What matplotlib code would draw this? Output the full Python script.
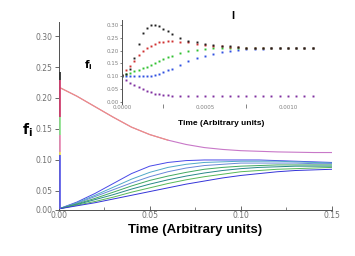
import matplotlib
matplotlib.use("Agg")
import matplotlib.pyplot as plt
from matplotlib.ticker import MultipleLocator

# ---------------- data ----------------
# main panel: time grid for all curves
t_main = [0.0, 0.01, 0.02, 0.03, 0.04, 0.05, 0.06, 0.07, 0.08, 0.09,
          0.10, 0.11, 0.12, 0.13, 0.14, 0.15]

rise_1 = [0.021, 0.032, 0.046, 0.062, 0.078, 0.090, 0.096, 0.099, 0.100, 0.100, 0.100, 0.100, 0.099, 0.098, 0.097, 0.096]
rise_2 = [0.021, 0.031, 0.043, 0.056, 0.069, 0.080, 0.088, 0.093, 0.096, 0.097, 0.098, 0.098, 0.098, 0.097, 0.096, 0.095]
rise_3 = [0.021, 0.030, 0.041, 0.052, 0.063, 0.073, 0.081, 0.087, 0.091, 0.093, 0.095, 0.095, 0.095, 0.095, 0.094, 0.094]
rise_4 = [0.021, 0.029, 0.038, 0.048, 0.058, 0.067, 0.074, 0.080, 0.085, 0.088, 0.090, 0.091, 0.092, 0.092, 0.092, 0.092]
rise_5 = [0.021, 0.028, 0.036, 0.044, 0.053, 0.061, 0.068, 0.074, 0.079, 0.083, 0.086, 0.088, 0.089, 0.090, 0.090, 0.090]
rise_6 = [0.021, 0.027, 0.033, 0.040, 0.048, 0.055, 0.062, 0.068, 0.073, 0.077, 0.081, 0.083, 0.085, 0.086, 0.087, 0.088]
rise_7 = [0.021, 0.026, 0.031, 0.037, 0.043, 0.049, 0.055, 0.061, 0.066, 0.071, 0.075, 0.078, 0.081, 0.083, 0.084, 0.085]
rise_series = [rise_1, rise_2, rise_3, rise_4, rise_5, rise_6, rise_7]

t_fall = [0.0005, 0.01, 0.02, 0.03, 0.04, 0.05, 0.06, 0.07, 0.08, 0.09,
          0.10, 0.11, 0.12, 0.13, 0.14, 0.15]
fall = [0.217, 0.203, 0.186, 0.169, 0.153, 0.141, 0.132, 0.125, 0.120, 0.117,
        0.115, 0.114, 0.113, 0.1125, 0.112, 0.112]

# initial jumps drawn at t ~ 0 (low, high)
jump_low = [0.021, 0.108, 0.113, 0.140, 0.170, 0.229]
jump_high = [0.108, 0.113, 0.140, 0.170, 0.229, 0.242]

# inset: time in arbitrary units
t_in = [0.0, 0.000025, 0.00005, 0.000075, 0.0001, 0.000125, 0.00015, 0.000175,
        0.0002, 0.000225, 0.00025, 0.000275, 0.0003, 0.00035, 0.0004, 0.00045,
        0.0005, 0.00055, 0.0006, 0.00065, 0.0007, 0.00075, 0.0008, 0.00085,
        0.0009, 0.00095, 0.001, 0.00105, 0.0011, 0.00115]
in_black = [0.105, 0.110, 0.130, 0.170, 0.225, 0.270, 0.290, 0.300, 0.300, 0.295,
            0.285, 0.275, 0.265, 0.250, 0.238, 0.232, 0.228, 0.224, 0.220, 0.217,
            0.214, 0.212, 0.211, 0.210, 0.210, 0.210, 0.210, 0.210, 0.210, 0.210]
in_red = [0.105, 0.125, 0.140, 0.160, 0.185, 0.200, 0.210, 0.218, 0.225, 0.232,
          0.235, 0.236, 0.236, 0.235, 0.233, 0.228, 0.223, 0.220, 0.218, 0.215,
          0.213, 0.211, 0.210, 0.210, 0.210, 0.210, 0.210, 0.210, 0.210, 0.210]
in_green = [0.100, 0.108, 0.114, 0.120, 0.125, 0.131, 0.137, 0.144, 0.150, 0.160,
            0.168, 0.175, 0.181, 0.192, 0.198, 0.204, 0.207, 0.209, 0.210, 0.210,
            0.210, 0.210, 0.210, 0.210, 0.210, 0.210, 0.210, 0.210, 0.210, 0.210]
in_blue = [0.100, 0.100, 0.100, 0.100, 0.100, 0.100, 0.100, 0.102, 0.106, 0.110,
           0.116, 0.123, 0.130, 0.145, 0.160, 0.172, 0.180, 0.188, 0.194, 0.198,
           0.202, 0.205, 0.207, 0.208, 0.210, 0.210, 0.210, 0.210, 0.210, 0.210]
in_purple = [0.100, 0.085, 0.075, 0.066, 0.058, 0.050, 0.043, 0.037, 0.032, 0.029,
             0.026, 0.025, 0.024, 0.022, 0.022, 0.022, 0.022, 0.022, 0.022, 0.022,
             0.022, 0.022, 0.022, 0.022, 0.022, 0.022, 0.022, 0.022, 0.022, 0.022]
inset_series = [in_purple, in_blue, in_green, in_red, in_black]

main_yticks = [0.05, 0.10, 0.15, 0.20, 0.25, 0.30]
main_xticks = [0.00, 0.05, 0.10, 0.15]
inset_yticks = [0.00, 0.05, 0.10, 0.15, 0.20, 0.25, 0.30]
inset_xticks = [0.0, 0.0005, 0.001]

# ---------------- styling ----------------
rise_colors = ['#4848e8', '#50a8c8', '#6888d8', '#40a860', '#288888', '#58b858', '#3434d8']
jump_colors = ['#6060e8', '#f0e060', '#e890b8', '#90e090', '#d04070', '#303030']
inset_colors = ['#8030a0', '#3050e0', '#30c030', '#d03030', '#202020']
gray = '#505050'

fig = plt.figure(figsize=(3.55, 2.56), dpi=100)
ax = fig.add_axes([0.165, 0.18, 0.77, 0.734])

for ys, c in zip(rise_series, rise_colors):
    ax.plot(t_main, ys, color=c, lw=0.7)
ax.plot(t_fall, fall, color='#c878c8', lw=0.8)
ax.plot(t_fall[:7], fall[:7], color='#f09080', lw=0.8)
ax.vlines([0.0006] * len(jump_low), jump_low, jump_high, colors=jump_colors,
          lw=1.3, zorder=4, clip_on=False)

ymin, ymax = 0.0194, 0.3226
ax.set_xlim(0, 0.15)
ax.set_ylim(ymin, ymax)
ax.set_yticks([ymin] + main_yticks)
ax.set_yticklabels(["0.00"] + [f"{v:.2f}" for v in main_yticks])
ax.set_xticks(main_xticks)
ax.set_xticklabels([f"{v:.2f}" for v in main_xticks])
ax.xaxis.set_minor_locator(MultipleLocator(0.025))
for s in ['top', 'right']:
    ax.spines[s].set_visible(False)
for s in ['left', 'bottom']:
    ax.spines[s].set_color(gray)
    ax.spines[s].set_linewidth(0.7)
ax.tick_params(axis='y', direction='out', length=3, width=0.6, colors=gray,
               labelsize=5.5, labelcolor='#707070', pad=1.5)
ax.tick_params(axis='x', which='major', direction='in', length=3, width=0.6, colors=gray,
               labelsize=5.5, labelcolor='#707070', pad=1)
ax.tick_params(axis='x', which='minor', direction='in', length=2, width=0.5, colors=gray)
ax.set_xlabel("Time (Arbitrary units)", family='Liberation Sans', fontweight='bold',
              fontsize=9.5, labelpad=3)
fig.text(27 / 355, 1 - 130 / 256, r'$\mathbf{f}_\mathbf{i}$', fontsize=10,
         ha='center', va='center')

# ---------------- inset ----------------
axi = fig.add_axes([0.3437, 0.594, 0.5606, 0.328])
axi.patch.set_alpha(0)
for ys, c in zip(inset_series, inset_colors):
    axi.plot(t_in, ys, linestyle='none', marker='s', markersize=1.4,
             markeredgewidth=0, color=c)
axi.set_xlim(0, 0.0012)
axi.set_ylim(-0.008, 0.32)
axi.set_yticks(inset_yticks)
axi.set_yticklabels([f"{v:.2f}" for v in inset_yticks])
axi.set_xticks(inset_xticks)
axi.set_xticklabels([f"{v:.4f}" for v in inset_xticks])
axi.xaxis.set_minor_locator(MultipleLocator(0.00025))
for s in ['top', 'right', 'bottom']:
    axi.spines[s].set_visible(False)
axi.spines['left'].set_color(gray)
axi.spines['left'].set_linewidth(0.7)
axi.tick_params(axis='y', direction='out', length=1.5, width=0.5, colors=gray,
                labelsize=4, labelcolor='#808080', pad=1)
axi.tick_params(axis='x', which='major', direction='out', length=0, colors=gray,
                labelsize=4, labelcolor='#808080', pad=1)
axi.tick_params(axis='x', which='minor', direction='out', length=3, width=0.5, colors=gray)
axi.set_xlabel("Time (Arbitrary units)", family='Liberation Sans', fontweight='bold',
               fontsize=6, labelpad=5)
fig.text(88 / 355, 1 - 65 / 256, r'$\mathbf{f}_\mathbf{i}$', fontsize=7.5,
         ha='center', va='center')
fig.text(233 / 355, 1 - 16 / 256, "I", family='Liberation Sans', fontweight='bold',
         fontsize=8, ha='center', va='center')

fig.savefig("out.png", dpi=100)
